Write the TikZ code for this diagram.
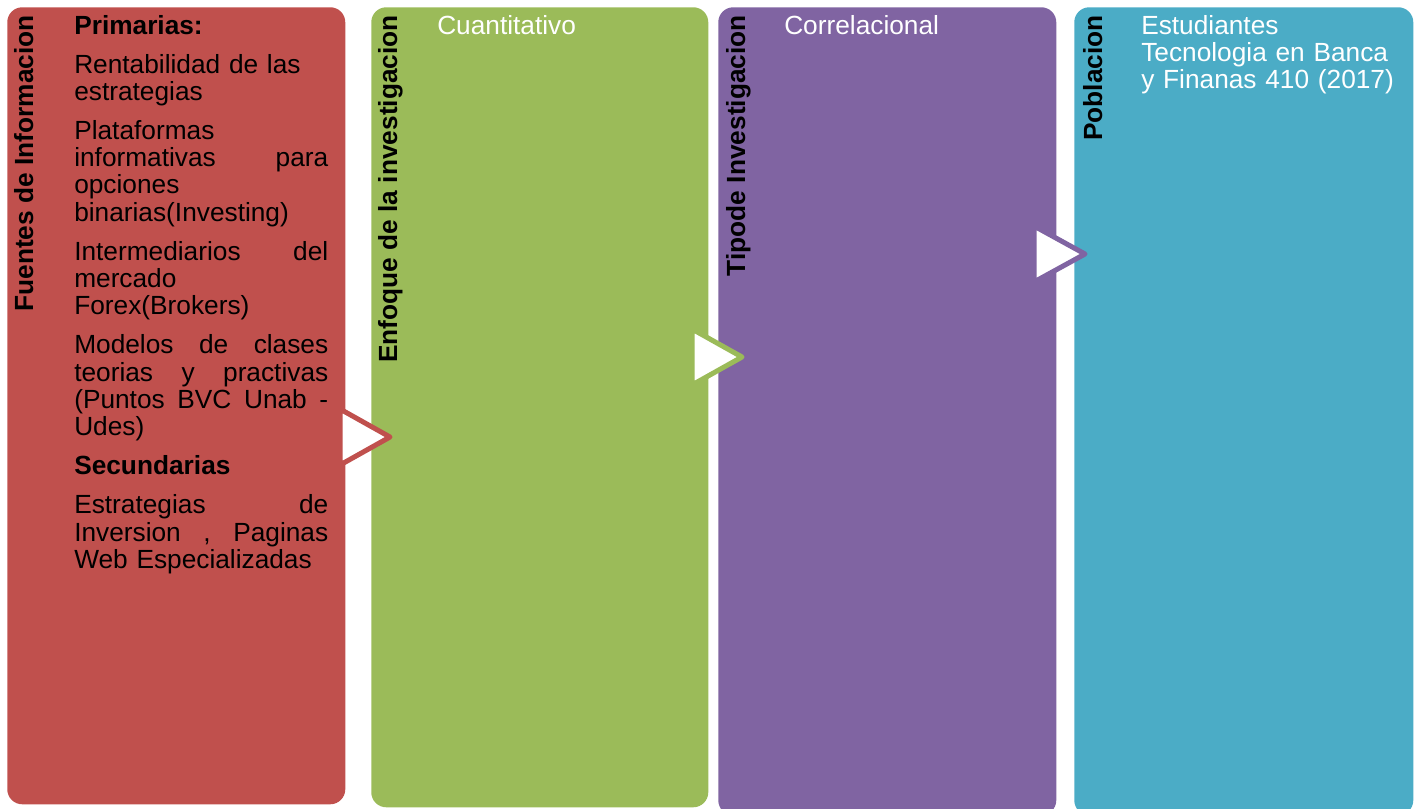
\documentclass[tikz,border=0pt]{standalone}
\usepackage{fontspec}
\setmainfont{Liberation Sans}
\definecolor{cred}{HTML}{C0504D}
\definecolor{cgreen}{HTML}{9BBB59}
\definecolor{cpurple}{HTML}{8064A2}
\definecolor{cteal}{HTML}{4BACC6}
\begin{document}
\begin{tikzpicture}[x=0.75pt,y=-0.75pt,
  panel/.style={rounded corners=11.25pt, draw=none, inner sep=0pt, anchor=north west},
  title/.style={font=\bfseries\fontsize{19.7}{20.4}\selectfont, rotate=90, anchor=base east, inner sep=0pt, text=black},
  body/.style={font=\fontsize{19.7}{20.45}\selectfont, anchor=base west, inner sep=0pt, text width=190.5pt, align=left},
  chevron/.style={fill=white, line width=3.75pt, line join=round}]
\useasboundingbox (0,0) rectangle (1419,808);
\clip (0,0) rectangle (1419,808);
% panels
\node[panel, fill=cred, minimum width=253.5pt, minimum height=597.75pt] (p1) at (7,7) {};
\node[panel, fill=cgreen, minimum width=252.75pt, minimum height=600pt] (p2) at (371,7) {};
\node[panel, fill=cpurple, minimum width=253.5pt, minimum height=606pt] (p3) at (718,7) {};
\node[panel, fill=cteal, minimum width=254.25pt, minimum height=606pt] (p4) at (1074,7) {};
% vertical titles
\node[title] (h1) at (33,15) {Fuentes de Informacion};
\node[title] (h2) at (397,15) {Enfoque de la investigacion};
\node[title] (h3) at (745,15) {Tipode Investigacion};
\node[title] (h4) at (1102,15) {Poblacion};
% body texts
\node[body] (t1) at (74,34) {\textbf{Primarias:}\\[8.85pt]
Rentabilidad de las\\
estrategias\\[8.85pt]
Plataformas\\
informativas\hfill para\\
opciones\\
binarias(Investing)\\[8.85pt]
Intermediarios\hfill del\\
mercado\\
Forex(Brokers)\\[8.85pt]
Modelos\hfill de\hfill clases\\
teorias\hfill y\hfill practivas\\
(Puntos\hfill BVC\hfill Unab\hfill -\\
Udes)\\[8.85pt]
\textbf{Secundarias}\\[8.85pt]
Estrategias\hfill de\\
Inversion\hfill ,\hfill Paginas\\
Web Especializadas};
\node[body, text=white] (t2) at (437,34) {Cuantitativo};
\node[body, text=white] (t3) at (784,34) {Correlacional};
\node[body, text=white] (t4) at (1141,34) {Estudiantes\\Tecnologia en Banca\\y Finanas 410 (2017)};
% chevrons
\draw[chevron, draw=cred] (340,409) -- (390,437) -- (340,465) -- cycle;
\draw[chevron, draw=cgreen] (692,329) -- (742,357) -- (692,385) -- cycle;
\draw[chevron, draw=cpurple] (1034,226) -- (1085,254) -- (1034,282) -- cycle;
\end{tikzpicture}
\end{document}
